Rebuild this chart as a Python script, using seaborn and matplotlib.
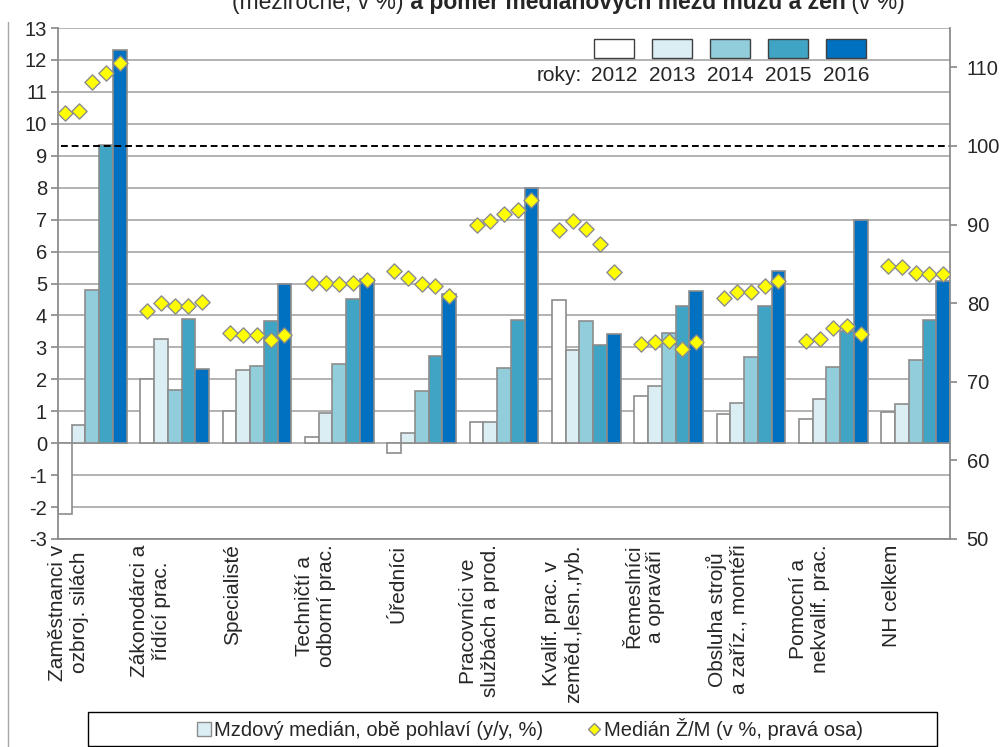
import matplotlib
matplotlib.use("Agg")
import matplotlib.pyplot as plt
from matplotlib.patches import Rectangle, Patch
from matplotlib.lines import Line2D
import seaborn as sns
import pandas as pd

# categories (main job classes) and years
categories = ["Zaměstnanci v\nozbroj. silách", "Zákonodárci a\nřídící prac.", "Specialisté",
              "Techničtí a\nodborní prac.", "Úředníci", "Pracovníci ve\nslužbách a prod.",
              "Kvalif. prac. v\nzeměd.,lesn.,ryb.", "Řemeslníci\na opraváři",
              "Obsluha strojů\na zaříz., montéři", "Pomocní a\nnekvalif. prac.", "NH celkem"]
years = ["2012", "2013", "2014", "2015", "2016"]

# wage median, both sexes (y/y, %)
median_2012 = [-2.22, 2.02, 1.00, 0.19, -0.30, 0.65, 4.48, 1.49, 0.92, 0.76, 0.97]
median_2013 = [0.58, 3.27, 2.30, 0.95, 0.31, 0.65, 2.93, 1.80, 1.27, 1.39, 1.23]
median_2014 = [4.79, 1.65, 2.43, 2.49, 1.63, 2.35, 3.82, 3.45, 2.70, 2.38, 2.59]
median_2015 = [9.33, 3.90, 3.82, 4.52, 2.72, 3.87, 3.08, 4.28, 4.31, 3.51, 3.85]
median_2016 = [12.30, 2.33, 5.00, 5.13, 4.66, 7.98, 3.43, 4.78, 5.39, 7.00, 5.08]

# ratio of medians women/men (%, right axis)
ratio_2012 = [104.2, 79.0, 76.2, 82.6, 84.1, 89.9, 89.3, 74.8, 80.6, 75.2, 84.7]
ratio_2013 = [104.5, 80.0, 75.9, 82.6, 83.2, 90.4, 90.4, 75.1, 81.4, 75.5, 84.6]
ratio_2014 = [108.1, 79.7, 75.9, 82.4, 82.5, 91.4, 89.4, 75.2, 81.4, 76.9, 83.8]
ratio_2015 = [109.3, 79.6, 75.3, 82.6, 82.2, 91.8, 87.5, 74.2, 82.2, 77.1, 83.7]
ratio_2016 = [110.5, 80.1, 75.9, 82.9, 80.9, 93.1, 83.9, 75.0, 82.8, 76.1, 83.7]

colors = ["#FFFFFF", "#DAEEF3", "#92CDDC", "#40A5C4", "#0070C0"]
edge = "#8C8C8C"

medians = [median_2012, median_2013, median_2014, median_2015, median_2016]
ratios = [ratio_2012, ratio_2013, ratio_2014, ratio_2015, ratio_2016]

# long table: each group = 5 bars + one empty slot before the next group
rows = []
for j, y in enumerate(years):
    for k in range(len(categories)):
        rows.append({"pos": 6 * k + j + 0.5, "year": y,
                     "median": medians[j][k], "ratio": ratios[j][k]})
df = pd.DataFrame(rows)

sns.set_theme(style="white")
plt.rcParams["font.family"] = ["Liberation Sans", "DejaVu Sans"]
plt.rcParams["axes.unicode_minus"] = False

fig = plt.figure(figsize=(10.03, 7.47), dpi=100)
ax = fig.add_axes([58 / 1003, 1 - 539 / 747, (950 - 58) / 1003, (539 - 28) / 747])

sns.barplot(data=df, x="pos", y="median", hue="year", palette=dict(zip(years, colors)),
            native_scale=True, dodge=False, width=1, errorbar=None, legend=False,
            saturation=1, edgecolor=edge, linewidth=1.2, ax=ax)

ax.set_xlim(0, 65)
ax.set_ylim(-3, 13)
ax.set_yticks(range(-3, 14))
ax.set_xticks([6 * k + 0.75 for k in range(len(categories))])
ax.set_xticklabels(categories, rotation=90, fontsize=15)
ax.set_xlabel("")
ax.set_ylabel("")
ax.set_axisbelow(True)
ax.grid(axis="y", color="#A6A6A6", lw=1.2)
ax.grid(axis="x", visible=False)
ax.tick_params(axis="x", length=0, pad=4)
ax.tick_params(axis="y", labelsize=14.5, length=5, color=edge, direction="out", left=True, pad=3)
for s in ["left", "bottom"]:
    ax.spines[s].set_color(edge)
    ax.spines[s].set_linewidth(1.3)
ax.spines["top"].set_visible(False)
ax.spines["right"].set_visible(False)

ax2 = ax.twinx()
ax2.axhline(100, xmin=0.003, color="black", lw=1.4, ls=(0, (3.5, 2)), zorder=2)
sns.scatterplot(data=df, x="pos", y="ratio", marker="D", s=60, color="#FFFF00",
                edgecolor=edge, linewidth=1, legend=False, zorder=5, ax=ax2)
ax2.set_ylim(50, 115)
ax2.set_yticks(range(50, 111, 10))
ax2.set_ylabel("")
ax2.tick_params(axis="y", labelsize=14.5, length=5, color=edge, direction="out", right=True, pad=7)
for s in ["left", "top", "bottom"]:
    ax2.spines[s].set_visible(False)
ax2.spines["right"].set_color(edge)
ax2.spines["right"].set_linewidth(1.3)
ax2.grid(False)

# year swatches in the top right
for j, y in enumerate(years):
    x0 = (594 + 58 * j) / 1003
    fig.add_artist(Rectangle((x0, 1 - 58 / 747), 40 / 1003, 19 / 747, transform=fig.transFigure,
                             facecolor=colors[j], edgecolor="#404040", lw=1))
    fig.text(x0 + 20 / 1003, 1 - 81 / 747, y, ha="center", va="baseline", fontsize=15)
fig.text(582 / 1003, 1 - 81 / 747, "roky:", ha="right", va="baseline", fontsize=15)

# title (top line cut off in the source picture)
t1 = fig.text(232 / 1003, 1 - 14 / 747, "(meziročně, v %)", ha="left", va="bottom", fontsize=16.5)
t2 = ax.annotate(" a poměr mediánových mezd mužů a žen", xy=(1, 0), xycoords=t1,
                 ha="left", va="bottom", fontsize=16.5, fontweight="bold", annotation_clip=False)
ax.annotate(" (v %)", xy=(1, 0), xycoords=t2, ha="left", va="bottom", fontsize=16.5,
            annotation_clip=False)

# outer chart frame edge on the left
fig.add_artist(Line2D([8 / 1003, 8 / 1003], [0, 1 - 22 / 747], transform=fig.transFigure,
                      color="#A6A6A6", lw=1))

# bottom legend
fig.add_artist(Rectangle((88 / 1003, 1 / 747), (937 - 88) / 1003, (746 - 712) / 747,
                         transform=fig.transFigure, fill=False, edgecolor="black", lw=1))
handles = [Patch(facecolor=colors[1], edgecolor=edge, lw=1),
           Line2D([], [], marker="D", ls="none", markersize=6, markerfacecolor="#FFFF00",
                  markeredgecolor=edge)]
fig.legend(handles, ["Mzdový medián, obě pohlaví (y/y, %)", "Medián Ž/M (v %, pravá osa)"],
           loc="center", bbox_to_anchor=(530 / 1003, 1 - 729 / 747), ncol=2, frameon=False,
           fontsize=14.5, handlelength=0.7, handleheight=0.7, handletextpad=0.15,
           columnspacing=2.2)

fig.savefig("out.png", dpi=100)
